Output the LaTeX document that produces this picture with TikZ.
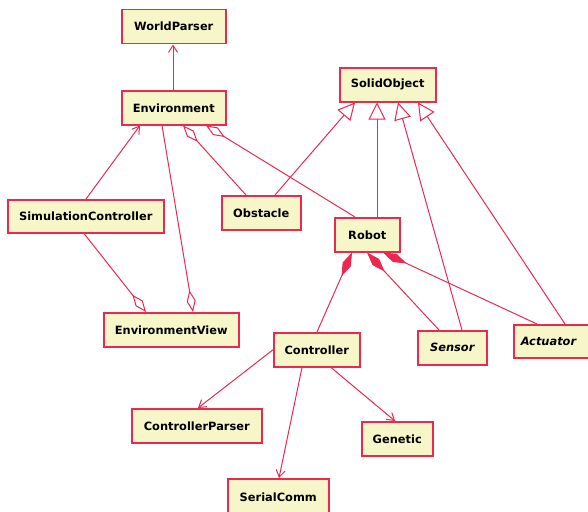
\documentclass[tikz,border=0pt]{standalone}
\usepackage{fontspec}
\setmainfont{DejaVu Sans}
\usetikzlibrary{arrows.meta}
\definecolor{boxfill}{RGB}{247,246,200}
\definecolor{umlred}{RGB}{236,40,80}
\begin{document}
\begin{tikzpicture}[x=1pt,y=-1pt,
  cls/.style={draw=umlred,fill=boxfill,line width=1.5pt,anchor=north west,inner sep=0pt,
    font=\fontsize{11.4}{13}\selectfont\bfseries,text=black},
  conn/.style={draw=umlred,line width=1pt},
  nav/.style={conn,-{Straight Barb[length=7pt,width=9pt]}},
  gen/.style={conn,-{Triangle[open,length=17pt,width=17pt,fill=white]}},
  agg/.style={conn,{Diamond[open,length=22pt,width=9pt,fill=white]}-},
  comp/.style={conn,{Diamond[length=26pt,width=9pt,fill=umlred]}-}]
\useasboundingbox (0,0) rectangle (588,511);
\clip (0,0) rectangle (588,511);
\node[cls,minimum width=104pt,minimum height=34pt] (wp) at (121,9) {WorldParser};
\node[cls,minimum width=104pt,minimum height=34pt] (env) at (121,90) {Environment};
\node[cls,minimum width=156pt,minimum height=33pt] (sim) at (7,199) {SimulationController};
\node[cls,minimum width=79pt,minimum height=34pt] (obs) at (221,195) {Obstacle};
\node[cls,minimum width=96pt,minimum height=34pt] (solid) at (339,67) {SolidObject};
\node[cls,minimum width=65pt,minimum height=34pt] (robot) at (334,217) {Robot};
\node[cls,minimum width=135pt,minimum height=34pt] (envview) at (103,312) {EnvironmentView};
\node[cls,minimum width=86pt,minimum height=34pt] (ctrl) at (273,332) {Controller};
\node[cls,minimum width=69pt,minimum height=34pt] (sensor) at (417,330) {\itshape Sensor};
\node[cls,minimum width=82pt,minimum height=33pt,text width=76pt,align=left] (act) at (513,324) {\hspace*{4pt}\itshape Actuator};
\node[cls,minimum width=130pt,minimum height=34pt] (cparser) at (131,408) {ControllerParser};
\node[cls,minimum width=71pt,minimum height=34pt] (genetic) at (361,421) {Genetic};
\node[cls,minimum width=101pt,minimum height=36pt] (serial) at (227,478) {SerialComm};
% navigable associations
\draw[nav] ([xshift=52pt]env.north west) -- ([xshift=52pt]wp.south west);
\draw[nav] ([xshift=79pt]sim.north west) -- ([xshift=19pt]env.south west);
\draw[nav] (ctrl.west) -- ([xshift=67pt]cparser.north west);
\draw[nav] ([xshift=29pt]ctrl.south west) -- ([xshift=52pt]serial.north west);
\draw[nav] ([xshift=58pt]ctrl.south west) -- ([xshift=34pt]genetic.north west);
% aggregations
\draw[agg] ([xshift=43pt]envview.north west) -- ([xshift=77pt]sim.south west);
\draw[agg] ([xshift=90pt]envview.north west) -- ([xshift=41pt]env.south west);
\draw[agg] ([xshift=62pt]env.south west) -- ([xshift=25pt]obs.north west);
\draw[agg] ([xshift=85pt]env.south west) -- ([xshift=21pt]robot.north west);
% generalizations
\draw[gen] ([xshift=54pt]obs.north west) -- ([xshift=16pt]solid.south west);
\draw[gen] ([xshift=43pt]robot.north west) -- ([xshift=38pt]solid.south west);
\draw[gen] ([xshift=45pt]sensor.north west) -- ([xshift=59pt]solid.south west);
\draw[gen] ([xshift=52pt]act.north west) -- ([xshift=79pt]solid.south west);
% compositions
\draw[comp] ([xshift=18pt]robot.south west) -- ([xshift=44pt]ctrl.north west);
\draw[comp] ([xshift=33pt]robot.south west) -- ([xshift=22pt]sensor.north west);
\draw[comp] ([xshift=49pt]robot.south west) -- ([xshift=24pt]act.north west);
\end{tikzpicture}
\end{document}
